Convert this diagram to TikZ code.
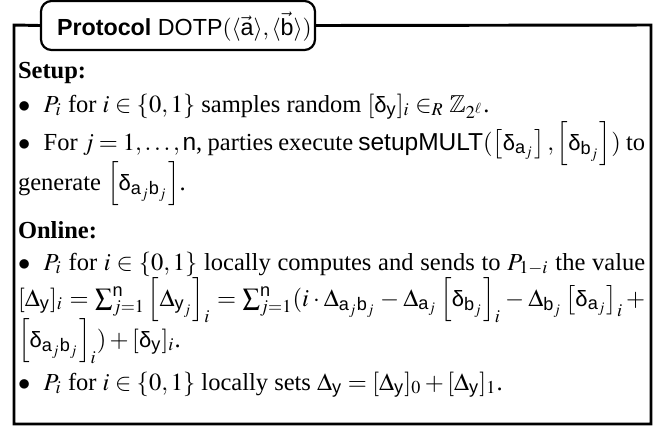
\documentclass[tikz,border=0pt]{standalone}
\usepackage{amsmath,amssymb}
\usepackage{mathptmx}
\usepackage[no-math]{fontspec}
\setmainfont{Liberation Serif}
\setsansfont{Liberation Sans}
\newcommand\sv[1]{\text{\sffamily #1}}
\newcommand\dlt{\text{\sffamily\scalebox{0.9}{δ}}}
\newcommand\fullline[1]{\makebox[255.9pt][s]{#1}}
\newcommand\bul{$\bullet$\hspace{5.5pt}}
\begin{document}
\begin{tikzpicture}[x=0.408pt,y=-0.408pt,
  txt/.style={anchor=base west,inner sep=0pt,outer sep=0pt},
  hdrbox/.style={draw,line width=0.9pt,rounded corners=4.3pt,fill=white,
    minimum width=111.8pt,minimum height=20pt,inner sep=0pt},
  frame/.style={line width=1.2pt}]
\useasboundingbox (0,0) rectangle (670,427);
\node[hdrbox] (hdr) at (178,25.5) {};
\node[txt,font=\fontsize{9.5pt}{11pt}\sffamily] (hdrtxt) at (57,35) {\textbf{Protocol} DOTP$(\langle\vec{\sv{a}}\rangle,\langle\vec{\sv{b}}\rangle)$};
\coordinate (tl) at (14,25);
\coordinate (bl) at (14,424);
\coordinate (br) at (651,424);
\coordinate (tr) at (651,25);
\draw[frame] (hdr.west) -- (tl) -- (bl) -- (br) -- (tr) -- (hdr.east);
\node[txt] (l1) at (18,78) {\textbf{Setup:}};
\node[txt] (l2) at (18,112) {\bul$P_i$ for $i\in\{0,1\}$ samples random $[\dlt_{\sv{y}}]_i\in_R\mathbb{Z}_{2^\ell}$.};
\node[txt] (l3) at (18,150) {\fullline{\bul For $j=1,\ldots,\sv{n}$, parties execute \textsf{setupMULT}$(\left[\dlt_{\sv{a}_j}\right],\left[\dlt_{\sv{b}_j}\right])$ to}};
\node[txt] (l4) at (18,190) {generate $\left[\dlt_{\sv{a}_j\sv{b}_j}\right]$.};
\node[txt] (l5) at (18,238) {\textbf{Online:}};
\node[txt] (l6) at (18,270) {\fullline{\bul$P_i$ for $i\in\{0,1\}$ locally computes and sends to $P_{1-i}$ the value}};
\node[txt] (l7) at (18,306) {\fullline{$[\Delta_{\sv{y}}]_i=\sum_{j=1}^{\sv{n}}\left[\Delta_{\sv{y}_j}\right]_i=\sum_{j=1}^{\sv{n}}(i\cdot\Delta_{\sv{a}_j\sv{b}_j}-\Delta_{\sv{a}_j}\left[\dlt_{\sv{b}_j}\right]_i-\Delta_{\sv{b}_j}\left[\dlt_{\sv{a}_j}\right]_i+$}};
\node[txt] (l8) at (18,347) {$\left[\dlt_{\sv{a}_j\sv{b}_j}\right]_i)+[\dlt_{\sv{y}}]_i$.};
\node[txt] (l9) at (18,390) {\bul$P_i$ for $i\in\{0,1\}$ locally sets $\Delta_{\sv{y}}=[\Delta_{\sv{y}}]_0+[\Delta_{\sv{y}}]_1$.};
\end{tikzpicture}
\end{document}
